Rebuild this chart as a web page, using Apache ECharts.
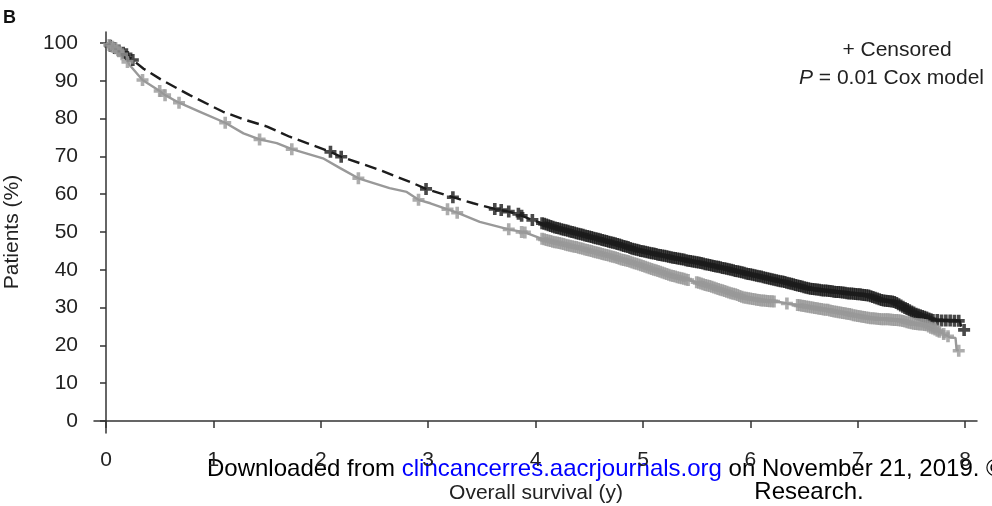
<!DOCTYPE html>
<html>
<head>
<meta charset="utf-8">
<title>Overall survival</title>
<script src="https://cdn.jsdelivr.net/npm/echarts@6/dist/echarts.min.js"></script>
<style>
  html, body { margin: 0; padding: 0; background: #fff; }
  #chart { width: 992px; height: 506px; }
</style>
</head>
<body>
<div id="chart"></div>
<script>
// Kaplan-Meier estimates (years, % alive) for the two groups
const dashedTime = [0, 0.05, 0.1, 0.19, 0.25, 0.35, 0.52, 0.78, 1.09, 1.28, 1.5, 1.71, 1.96, 2.09, 2.19, 2.55, 2.86, 2.98, 3.23, 3.42, 3.62, 3.75, 3.87, 3.97, 4.06, 4.23, 4.48, 4.74, 4.94, 5.16, 5.62, 6.03, 6.28, 6.55, 7.11, 7.21, 7.33, 7.42, 7.55, 7.70, 7.95, 7.97, 7.99];
const dashedPct  = [100, 99.2, 98.3, 97.0, 95.5, 93.2, 90.2, 86.2, 81.8, 79.8, 77.9, 75.2, 72.6, 71.2, 69.9, 66.4, 62.9, 61.4, 59.2, 57.6, 56.1, 55.4, 54.3, 53.2, 52.3, 50.8, 48.9, 47.0, 45.3, 43.9, 41.3, 38.6, 37.0, 35.0, 33.2, 32.0, 31.6, 30.2, 28.3, 26.7, 26.5, 24.1, 24.1];

const solidTime = [0, 0.05, 0.1, 0.18, 0.22, 0.34, 0.5, 0.55, 0.68, 0.875, 1.11, 1.28, 1.43, 1.59, 1.73, 2.02, 2.18, 2.35, 2.64, 2.80, 2.91, 3.02, 3.18, 3.27, 3.48, 3.75, 3.9, 4.06, 4.23, 4.48, 4.85, 5.0, 5.25, 5.53, 5.93, 6.09, 6.24, 6.34, 6.71, 7.11, 7.21, 7.39, 7.52, 7.64, 7.76, 7.86, 7.91, 7.92, 7.94];
const solidPct  = [100, 99.2, 98.4, 96.0, 94.2, 90.2, 87.3, 86.2, 84.2, 81.8, 78.9, 76.1, 74.5, 73.5, 71.9, 69.5, 66.9, 64.2, 61.6, 60.6, 58.5, 57.6, 56.0, 55.1, 52.7, 50.7, 49.9, 48.2, 47.0, 45.3, 42.4, 41.0, 38.6, 36.5, 32.8, 31.9, 31.6, 31.1, 29.4, 27.2, 27.0, 26.7, 25.7, 25.3, 23.6, 22.1, 22.0, 18.8, 18.6];

// Censoring times and the survival level at each censored observation
const dashedCensorTime = [0.04, 0.08, 0.12, 0.16, 0.19, 0.25, 2.09, 2.19, 2.98, 3.23, 3.62, 3.68, 3.75, 3.84, 3.87, 3.97,
  4.06, 4.08, 4.10, 4.12, 4.14, 4.16, 4.18, 4.20, 4.22, 4.24, 4.26, 4.28, 4.30, 4.32, 4.34, 4.36, 4.38, 4.40, 4.42, 4.44,
  4.46, 4.48, 4.50, 4.52, 4.54, 4.56, 4.58, 4.60, 4.62, 4.64, 4.66, 4.68, 4.70, 4.72, 4.74, 4.76, 4.78, 4.80, 4.82, 4.84,
  4.86, 4.88, 4.90, 4.92, 4.94, 4.96, 4.98, 5.00, 5.02, 5.04, 5.06, 5.08, 5.10, 5.12, 5.14, 5.16, 5.18, 5.20, 5.22, 5.24,
  5.26, 5.28, 5.30, 5.32, 5.34, 5.36, 5.38, 5.40, 5.42, 5.44, 5.46, 5.48, 5.50, 5.52, 5.54, 5.56, 5.58, 5.60, 5.62, 5.64,
  5.66, 5.68, 5.70, 5.72, 5.74, 5.76, 5.78, 5.80, 5.82, 5.84, 5.86, 5.88, 5.90, 5.92, 5.94, 5.96, 5.98, 6.00, 6.02, 6.04,
  6.06, 6.08, 6.10, 6.12, 6.14, 6.16, 6.18, 6.20, 6.22, 6.24, 6.26, 6.28, 6.30, 6.32, 6.34, 6.36, 6.38, 6.40, 6.42, 6.44,
  6.46, 6.48, 6.50, 6.52, 6.54, 6.56, 6.58, 6.60, 6.62, 6.64, 6.66, 6.68, 6.70, 6.72, 6.74, 6.76, 6.78, 6.80, 6.82, 6.84,
  6.86, 6.88, 6.90, 6.92, 6.94, 6.96, 6.98, 7.00, 7.02, 7.04, 7.06, 7.08, 7.10, 7.12, 7.14, 7.16, 7.18, 7.20, 7.22, 7.24,
  7.26, 7.28, 7.30, 7.32, 7.34, 7.36, 7.38, 7.40, 7.42, 7.44, 7.46, 7.48, 7.50, 7.52, 7.54, 7.56, 7.58, 7.60, 7.62, 7.64,
  7.66, 7.68, 7.70, 7.74, 7.78, 7.82, 7.86, 7.90, 7.94, 7.99];
const dashedCensorPct = [99.3, 98.7, 98.0, 97.4, 97.0, 95.5, 71.2, 69.9, 61.4, 59.2, 56.1, 55.8, 55.4, 54.8, 54.3, 53.2,
  52.3, 52.15, 52.0, 51.8, 51.6, 51.4, 51.2, 51.05, 50.9, 50.75, 50.6, 50.45, 50.3, 50.15, 50.0, 49.85, 49.7, 49.55, 49.4, 49.25,
  49.1, 48.95, 48.8, 48.65, 48.5, 48.35, 48.2, 48.05, 47.9, 47.75, 47.6, 47.45, 47.3, 47.15, 47.0, 46.85, 46.7, 46.5, 46.3, 46.15,
  46.0, 45.8, 45.6, 45.45, 45.3, 45.15, 45.0, 44.9, 44.8, 44.65, 44.5, 44.4, 44.3, 44.15, 44.0, 43.9, 43.8, 43.7, 43.6, 43.45,
  43.3, 43.2, 43.1, 43.0, 42.9, 42.8, 42.7, 42.55, 42.4, 42.3, 42.2, 42.1, 42.0, 41.9, 41.8, 41.65, 41.5, 41.4, 41.3, 41.15,
  41.0, 40.9, 40.8, 40.65, 40.5, 40.4, 40.3, 40.15, 40.0, 39.85, 39.7, 39.6, 39.5, 39.35, 39.2, 39.05, 38.9, 38.8, 38.7, 38.55,
  38.4, 38.3, 38.2, 38.05, 37.9, 37.75, 37.6, 37.5, 37.4, 37.25, 37.1, 37.0, 36.9, 36.75, 36.6, 36.45, 36.3, 36.15, 36.0, 35.85,
  35.7, 35.55, 35.4, 35.25, 35.1, 35.0, 34.9, 34.85, 34.8, 34.7, 34.6, 34.55, 34.5, 34.45, 34.4, 34.3, 34.2, 34.15, 34.1, 34.05,
  34.0, 33.9, 33.8, 33.75, 33.7, 33.65, 33.6, 33.55, 33.5, 33.4, 33.3, 33.25, 33.2, 33.0, 32.8, 32.6, 32.4, 32.2, 32.0, 31.9,
  31.8, 31.75, 31.7, 31.6, 31.5, 31.2, 30.9, 30.55, 30.2, 29.9, 29.6, 29.3, 29.0, 28.7, 28.4, 28.2, 28.0, 27.8, 27.6, 27.35,
  27.1, 26.9, 26.7, 26.7, 26.6, 26.6, 26.6, 26.5, 26.5, 24.1];

const solidCensorTime = [0.03, 0.06, 0.09, 0.12, 0.15, 0.2, 0.34, 0.5, 0.55, 0.68, 1.11, 1.43, 1.73, 2.35, 2.91, 3.18, 3.27, 3.75, 3.87, 3.90,
  4.06, 4.08, 4.10, 4.12, 4.14, 4.16, 4.18, 4.20, 4.22, 4.24, 4.26, 4.28, 4.30, 4.32, 4.34, 4.36, 4.38, 4.40, 4.42, 4.44,
  4.46, 4.48, 4.50, 4.52, 4.54, 4.56, 4.58, 4.60, 4.62, 4.64, 4.66, 4.68, 4.70, 4.72, 4.74, 4.76, 4.78, 4.80, 4.82, 4.84,
  4.86, 4.88, 4.90, 4.92, 4.94, 4.96, 4.98, 5.00, 5.02, 5.04, 5.06, 5.08, 5.10, 5.12, 5.14, 5.16, 5.18, 5.20, 5.22, 5.24,
  5.26, 5.28, 5.30, 5.32, 5.34, 5.36, 5.38, 5.40, 5.42, 5.50, 5.52, 5.54, 5.56, 5.58, 5.60, 5.62, 5.64,
  5.66, 5.68, 5.70, 5.72, 5.74, 5.76, 5.78, 5.80, 5.82, 5.84, 5.86, 5.88, 5.90, 5.92, 5.94, 5.96, 5.98, 6.00, 6.02, 6.04,
  6.06, 6.08, 6.10, 6.12, 6.14, 6.16, 6.18, 6.20, 6.22, 6.34, 6.44,
  6.46, 6.48, 6.50, 6.52, 6.54, 6.56, 6.58, 6.60, 6.62, 6.64, 6.66, 6.68, 6.70, 6.72, 6.74, 6.76, 6.78, 6.80, 6.82, 6.84,
  6.86, 6.88, 6.90, 6.92, 6.94, 6.96, 6.98, 7.00, 7.02, 7.04, 7.06, 7.08, 7.10, 7.12, 7.14, 7.16, 7.18, 7.20, 7.22, 7.24,
  7.26, 7.28, 7.30, 7.32, 7.34, 7.36, 7.38, 7.40, 7.42, 7.44, 7.46, 7.48, 7.50, 7.52, 7.54, 7.56, 7.58, 7.60, 7.62, 7.64,
  7.66, 7.68, 7.70, 7.72, 7.74, 7.76, 7.80, 7.84, 7.94];
const solidCensorPct = [99.5, 99.0, 98.6, 97.8, 97.0, 95.0, 90.2, 87.3, 86.2, 84.2, 78.9, 74.5, 71.9, 64.2, 58.5, 56.0, 55.1, 50.7, 50.0, 49.9,
  48.2, 48.05, 47.9, 47.75, 47.6, 47.45, 47.3, 47.2, 47.1, 46.95, 46.8, 46.65, 46.5, 46.35, 46.2, 46.1, 46.0, 45.85, 45.7, 45.55,
  45.4, 45.25, 45.1, 44.95, 44.8, 44.65, 44.5, 44.35, 44.2, 44.05, 43.9, 43.75, 43.6, 43.45, 43.3, 43.1, 42.9, 42.75, 42.6, 42.45,
  42.3, 42.1, 41.9, 41.75, 41.6, 41.4, 41.2, 41.0, 40.8, 40.6, 40.4, 40.2, 40.0, 39.85, 39.7, 39.5, 39.3, 39.1, 38.9, 38.7,
  38.5, 38.35, 38.2, 38.05, 37.9, 37.75, 37.6, 37.45, 37.3, 36.7, 36.55, 36.4, 36.2, 36.0, 35.85, 35.7, 35.5,
  35.3, 35.1, 34.9, 34.75, 34.6, 34.4, 34.2, 34.0, 33.8, 33.65, 33.5, 33.3, 33.1, 32.9, 32.7, 32.6, 32.5, 32.4, 32.3, 32.2,
  32.1, 32.0, 31.9, 31.85, 31.8, 31.75, 31.7, 31.65, 31.6, 31.1, 30.7,
  30.6, 30.5, 30.4, 30.3, 30.2, 30.1, 30.0, 29.9, 29.8, 29.7, 29.6, 29.5, 29.45, 29.4, 29.25, 29.1, 29.0, 28.9, 28.8, 28.7,
  28.6, 28.5, 28.4, 28.3, 28.15, 28.0, 27.9, 27.8, 27.7, 27.6, 27.5, 27.4, 27.3, 27.2, 27.15, 27.1, 27.05, 27.0, 26.95, 26.9,
  26.9, 26.9, 26.85, 26.8, 26.75, 26.7, 26.65, 26.6, 26.45, 26.3, 26.15, 26.0, 25.85, 25.7, 25.65, 25.6, 25.55, 25.5, 25.4, 25.3,
  25.0, 24.7, 24.45, 24.2, 23.9, 23.6, 23.0, 22.4, 18.6];

const xTicks = [0, 1, 2, 3, 4, 5, 6, 7, 8];
const yTicks = [0, 10, 20, 30, 40, 50, 60, 70, 80, 90, 100];

const FONT = '"Liberation Sans", Arial, Helvetica, sans-serif';
const TEXT = '#222';
const AXIS = '#333';
const DARK = '#1c1c1c';
const GREY = '#999';
// plus-shaped censoring marker (filled, so the arms keep a fixed thickness)
const PLUS = 'path://M3.5,0H6.5V3.5H10V6.5H6.5V10H3.5V6.5H0V3.5H3.5Z';

const zip = (a, b) => a.map((v, i) => [v, b[i]]);

const chart = echarts.init(document.getElementById('chart'), null, { renderer: 'canvas' });

chart.setOption({
  animation: false,
  backgroundColor: '#fff',
  grid: { left: 94, top: 32, right: 15, bottom: 73, containLabel: false },
  xAxis: {
    type: 'value',
    min: -0.1117,
    max: 8.11,
    axisLine: { show: true, lineStyle: { color: AXIS, width: 1.5 } },
    axisTick: { show: true, customValues: xTicks, length: 7, lineStyle: { color: AXIS, width: 1.5 } },
    axisLabel: { customValues: xTicks, fontSize: 21, fontFamily: FONT, color: TEXT, margin: 17 },
    splitLine: { show: false }
  },
  yAxis: {
    type: 'value',
    min: -3.175,
    max: 102.91,
    axisLine: { show: true, lineStyle: { color: AXIS, width: 1.5 } },
    axisTick: { show: true, customValues: yTicks, length: 6, lineStyle: { color: AXIS, width: 1.5 } },
    axisLabel: { customValues: yTicks, fontSize: 21, fontFamily: FONT, color: TEXT, margin: 16 },
    splitLine: { show: false }
  },
  series: [
    {
      type: 'line', data: zip(dashedTime, dashedPct), showSymbol: false, symbol: 'none',
      lineStyle: { color: DARK, width: 2.4, type: [12, 6] }, z: 2
    },
    {
      type: 'line', data: zip(solidTime, solidPct), showSymbol: false, symbol: 'none',
      lineStyle: { color: GREY, width: 2.4 }, z: 3
    },
    {
      type: 'scatter', data: zip(dashedCensorTime, dashedCensorPct), symbol: PLUS, symbolSize: 12,
      itemStyle: { color: DARK }, z: 4
    },
    {
      type: 'scatter', data: zip(solidCensorTime, solidCensorPct), symbol: PLUS, symbolSize: 12,
      itemStyle: { color: GREY }, z: 5
    }
  ],
  graphic: [
    { type: 'text', x: 3, y: 18, style: { text: 'B', font: 'bold 18px ' + FONT, fill: '#111', align: 'left', verticalAlign: 'middle' } },
    { type: 'text', x: 12, y: 232, rotation: Math.PI / 2,
      style: { text: 'Patients (%)', font: '21px ' + FONT, fill: TEXT, align: 'center', verticalAlign: 'middle' } },
    { type: 'text', x: 536, y: 493,
      style: { text: 'Overall survival (y)', font: '21px ' + FONT, fill: TEXT, align: 'center', verticalAlign: 'middle' } },
    { type: 'text', x: 897, y: 50,
      style: { text: '+ Censored', font: '21px ' + FONT, fill: TEXT, align: 'center', verticalAlign: 'middle' } },
    { type: 'text', x: 984, y: 78,
      style: { text: '{i|P} = 0.01 Cox model', font: '21px ' + FONT, fill: TEXT, align: 'right', verticalAlign: 'middle',
        rich: { i: { font: 'italic 21px ' + FONT, fill: TEXT } } } },
    { type: 'text', x: 207, y: 469,
      style: { text: 'Downloaded from {a|clincancerres.aacrjournals.org} on November 21, 2019. ©', font: '24px ' + FONT, fill: '#000',
        align: 'left', verticalAlign: 'middle', rich: { a: { font: '24px ' + FONT, fill: '#0000ff' } } } },
    { type: 'text', x: 809, y: 492,
      style: { text: 'Research.', font: '24px ' + FONT, fill: '#000', align: 'center', verticalAlign: 'middle' } }
  ]
});
</script>
</body>
</html>
